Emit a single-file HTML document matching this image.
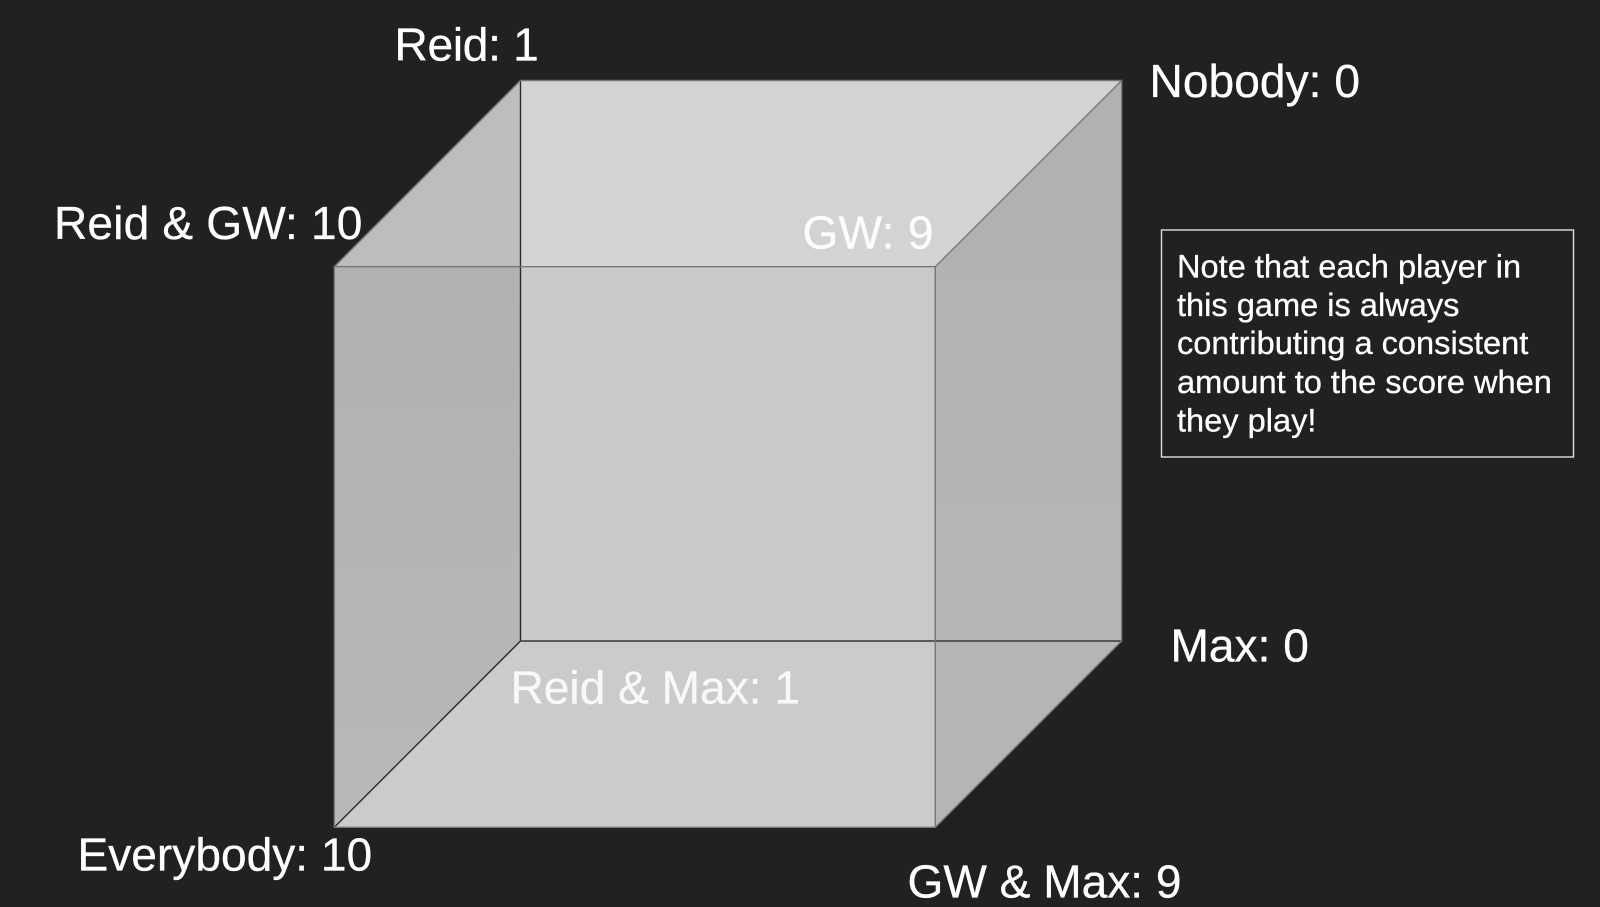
<!DOCTYPE html>
<html><head><meta charset="utf-8"><style>
html,body{margin:0;padding:0;background:#212121;width:1600px;height:907px;overflow:hidden}
svg{display:block}
text{font-family:"Liberation Sans",sans-serif;fill:#fff;stroke:#fff;stroke-width:.3px}
.l{font-size:46.1px}
.n{font-size:32.6px}
</style></head><body>
<svg width="1600" height="907" viewBox="0 0 1600 907" xmlns="http://www.w3.org/2000/svg">
<defs>
<linearGradient id="lg" x1="0" y1="0" x2="0" y2="1"><stop offset="0" stop-color="#b1b1b1"/><stop offset="1" stop-color="#b8b8b8"/></linearGradient>
<linearGradient id="rg" x1="0" y1="0" x2="0" y2="1"><stop offset="0" stop-color="#b1b1b1"/><stop offset="1" stop-color="#b6b6b6"/></linearGradient>
</defs>
<rect width="1600" height="907" fill="#212121"/>
<polygon points="520.5,80.5 1121.7,80.5 935.3,266.7 520.5,266.7" fill="#d3d3d3"/>
<polygon points="334.3,266.7 520.5,80.5 520.5,266.7" fill="#bdbdbd"/>
<polygon points="334.3,266.7 520.5,266.7 520.5,641 334.3,827.3" fill="url(#lg)"/>
<rect x="520.5" y="266.7" width="414.8" height="374.3" fill="#c9c9c9"/>
<polygon points="520.5,641 935.3,641 935.3,827.3 334.3,827.3" fill="#cbcbcb"/>
<polygon points="935.3,266.7 1121.7,80.5 1121.7,641 935.3,641" fill="url(#rg)"/>
<polygon points="935.3,641 1121.7,641 935.3,827.3" fill="#b5b5b5"/>
<g fill="none" stroke-width="1.4">
<path d="M520.5 80.5V641" stroke="#2a2a2a"/>
<path d="M520.5 641L334.3 827.3" stroke="#2a2a2a"/>
<path d="M520.5 641H1121.7" stroke="#4a4a4a" stroke-width="1.8"/>
<path d="M334.3 266.7H935.3V827.3H334.3Z" stroke="#777"/>
<path d="M334.3 266.7L520.5 80.5H1121.7V641L935.3 827.3M1121.7 80.5L935.3 266.7" stroke="#777"/>
</g>
<text class="l" x="394.5" y="60.5" style="letter-spacing:-.3px">Reid: 1</text>
<text class="l" x="1149.5" y="97" style="letter-spacing:.05px">Nobody: 0</text>
<text class="l" x="54" y="239" style="letter-spacing:.15px">Reid &amp; GW: 10</text>
<text class="l" x="802.5" y="248.5" opacity=".95" style="letter-spacing:.3px">GW: 9</text>
<text class="l" x="510.5" y="703.5" opacity=".88">Reid &amp; Max: 1</text>
<text class="l" x="1170.5" y="661.5">Max: 0</text>
<text class="l" x="77.5" y="870.7">Everybody: 10</text>
<text class="l" x="907.5" y="897.5">GW &amp; Max: 9</text>
<rect x="1161.5" y="230" width="412" height="227" fill="#212121" stroke="#e0e0e0" stroke-width="1.4"/>
<text class="n" x="1177" y="277.4">Note that each player in</text>
<text class="n" x="1177" y="315.8">this game is always</text>
<text class="n" x="1177" y="354.2">contributing a consistent</text>
<text class="n" x="1177" y="392.8">amount to the score when</text>
<text class="n" x="1177" y="431.5">they play!</text>
</svg>
</body></html>
